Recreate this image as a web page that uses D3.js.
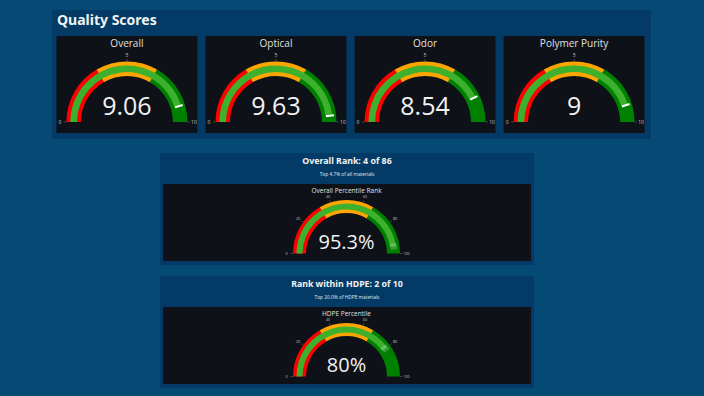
<!DOCTYPE html>
<html>
  <head>
    <meta charset="utf-8">
    <script src="https://d3js.org/d3.v7.min.js"></script>
    <title>Quality Scores</title>
    <style>
      body {
        margin: 0px;
        background: #044a75;
      }
      text {
        font-family: 'Open Sans', sans-serif;
      }
      .panel-title {
        font-family: 'Noto Sans', sans-serif;
        font-weight: bold;
        fill: #f2f2f2;
      }
    </style>
  </head>
  <body>
    <svg width="704" height="396"></svg>
    <script>
      // data
      const scoreNames = ['Overall', 'Optical', 'Odor', 'Polymer Purity'];
      const scoreValues = [9.06, 9.63, 8.54, 9];
      const scoreLabels = ['9.06', '9.63', '8.54', '9'];
      const scoreTicks = [0, 5, 10];
      const scoreMax = 10;

      const rankTitles = ['Overall Rank: 4 of 86', 'Rank within HDPE: 2 of 10'];
      const rankSubtitles = ['Top 4.7% of all materials', 'Top 20.0% of HDPE materials'];
      const rankGaugeTitles = ['Overall Percentile Rank', 'HDPE Percentile'];
      const rankValues = [95.3, 80];
      const rankLabels = ['95.3%', '80%'];
      const rankTicks = [0, 20, 40, 60, 80, 100];
      const rankMax = 100;

      // steps as fractions of the gauge range
      const stepStops = [0, 1 / 3, 2 / 3, 1];
      const stepColors = ['#ff0000', '#ffa500', '#008000'];
      const barColor = '#3db12d';

      const svg = d3.select('svg');

      svg.append('rect')
          .attr('width', 704).attr('height', 396)
          .attr('fill', '#044a75');

      // draws one plotly-like gauge centred at (cx, cy)
      const drawGauge = (g, opts) => {
        const { cx, cy, R, r, max, ticks, value, label, title, titleY, valueSize, valueDy, threshold } = opts;
        const t = R - r;
        const angle = d3.scaleLinear().domain([0, max]).range([-Math.PI / 2, Math.PI / 2]);
        const gg = g.append('g').attr('transform', `translate(${cx},${cy})`);

        const steps = stepColors.map((c, i) => ({
          from: stepStops[i] * max, to: stepStops[i + 1] * max, color: c
        }));
        const stepArc = d3.arc()
          .innerRadius(r).outerRadius(R)
          .startAngle(d => angle(d.from)).endAngle(d => angle(d.to));
        gg.selectAll('path.step').data(steps)
          .enter().append('path')
            .attr('class', 'step')
            .attr('d', stepArc)
            .attr('fill', d => d.color);

        const barArc = d3.arc()
          .innerRadius(r + t * 0.27).outerRadius(R - t * 0.27)
          .startAngle(angle(0)).endAngle(angle(value));
        gg.append('path').attr('d', barArc()).attr('fill', barColor);

        const a = angle(value);
        const r0 = r + t * threshold.from;
        const r1 = r + t * threshold.to;
        gg.append('line')
            .attr('x1', r0 * Math.sin(a)).attr('y1', -r0 * Math.cos(a))
            .attr('x2', r1 * Math.sin(a)).attr('y2', -r1 * Math.cos(a))
            .attr('stroke', threshold.color)
            .attr('stroke-width', threshold.width);

        const tickG = gg.selectAll('g.tick').data(ticks)
          .enter().append('g').attr('class', 'tick');
        tickG.append('line')
            .attr('x1', d => R * Math.sin(angle(d)))
            .attr('y1', d => -R * Math.cos(angle(d)))
            .attr('x2', d => (R + 2.5) * Math.sin(angle(d)))
            .attr('y2', d => -(R + 2.5) * Math.cos(angle(d)))
            .attr('stroke', '#666').attr('stroke-width', 0.6);
        tickG.append('text')
            .attr('x', d => (R + 6.5) * Math.sin(angle(d)))
            .attr('y', d => -(R + 6.5) * Math.cos(angle(d)))
            .attr('dy', '0.35em')
            .attr('text-anchor', 'middle')
            .attr('font-size', opts.tickSize)
            .attr('fill', '#c8c8c8')
            .text(d => d);

        gg.append('text')
            .attr('y', valueDy)
            .attr('text-anchor', 'middle')
            .attr('font-size', valueSize)
            .attr('fill', '#f2f2f2')
            .text(label);

        gg.append('text')
            .attr('y', titleY)
            .attr('text-anchor', 'middle')
            .attr('font-size', opts.titleSize)
            .attr('fill', '#e0e0e0')
            .text(title);
      };

      // quality scores panel
      svg.append('rect')
          .attr('x', 52).attr('y', 10).attr('width', 599).attr('height', 129)
          .attr('fill', '#033b66');
      svg.append('text')
          .attr('class', 'panel-title')
          .attr('x', 57).attr('y', 25)
          .attr('font-size', 14)
          .text('Quality Scores');

      const cardX = d3.scaleBand()
        .domain(scoreNames)
        .range([52, 649])
        .paddingInner(0.055)
        .paddingOuter(0.03);

      scoreNames.forEach((name, i) => {
        const x = cardX(name);
        const w = cardX.bandwidth();
        svg.append('rect')
            .attr('x', x).attr('y', 36).attr('width', w).attr('height', 97)
            .attr('fill', '#0e1117');
        drawGauge(svg, {
          cx: x + w / 2, cy: 122, R: 60.5, r: 46, max: scoreMax, ticks: scoreTicks,
          value: scoreValues[i], label: scoreLabels[i], title: name,
          titleY: -75, titleSize: 10, valueSize: 25, valueDy: -7, tickSize: 5,
          threshold: { color: '#ffffff', width: 2, from: 0.3, to: 0.85 }
        });
      });

      // rank panels
      const rankTop = [153, 276];
      rankTitles.forEach((title, i) => {
        const y0 = rankTop[i];
        svg.append('rect')
            .attr('x', 160).attr('y', y0).attr('width', 374).attr('height', 112)
            .attr('fill', '#033b66');
        svg.append('text')
            .attr('class', 'panel-title')
            .attr('x', 347).attr('y', y0 + 10.5)
            .attr('text-anchor', 'middle')
            .attr('font-size', 8.8)
            .text(title);
        svg.append('text')
            .attr('x', 347).attr('y', y0 + 23)
            .attr('text-anchor', 'middle')
            .attr('font-size', 4.8)
            .attr('fill', '#e8e8e8')
            .text(rankSubtitles[i]);
        svg.append('rect')
            .attr('x', 163).attr('y', y0 + 31).attr('width', 368).attr('height', 77)
            .attr('fill', '#0e1117');
        drawGauge(svg, {
          cx: 346.5, cy: y0 + 100.5, R: 53.5, r: 40.5, max: rankMax, ticks: rankTicks,
          value: rankValues[i], label: rankLabels[i], title: rankGaugeTitles[i],
          titleY: -61, titleSize: 6.5, valueSize: 20, valueDy: -4.5, tickSize: 3.6,
          threshold: { color: 'rgba(255,255,255,0.22)', width: 6, from: 0.3, to: 0.8 }
        });
      });
    </script>
  </body>
</html>
